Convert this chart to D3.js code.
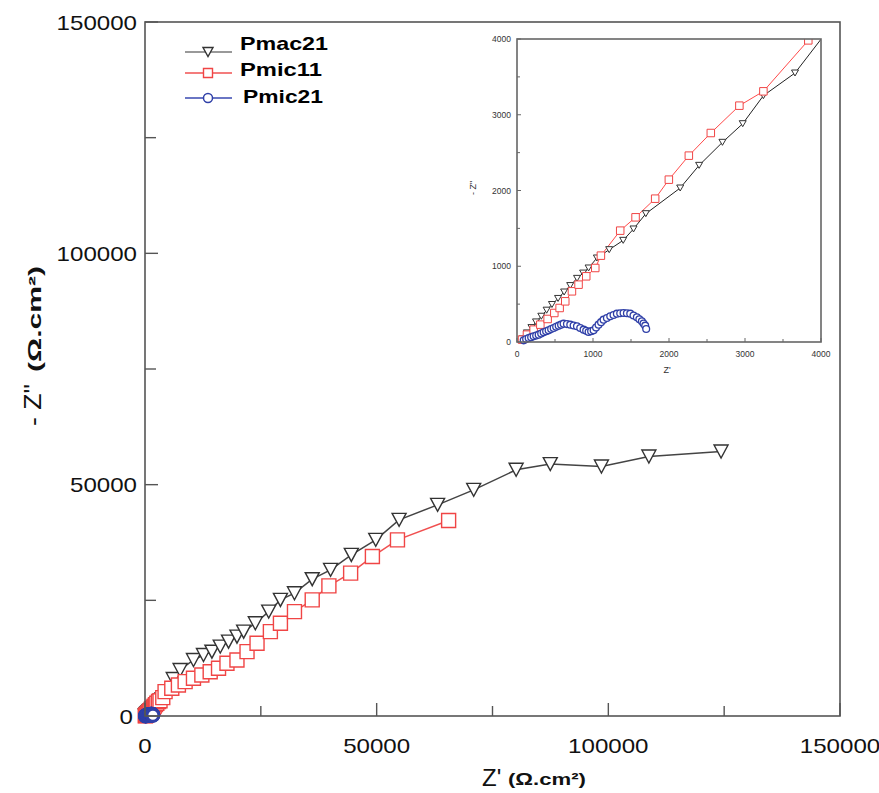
<!DOCTYPE html>
<html><head><meta charset="utf-8">
<script src="https://cdn.jsdelivr.net/npm/d3@7"></script>
<style>body{margin:0;background:#fff}</style>
</head><body>
<svg id="c" width="879" height="793"></svg>
<script>
// ---------- data ----------
const seriesNames = ["Pmac21", "Pmic11", "Pmic21"];
const pmac21 = [[70,40],[130,120],[190,190],[250,265],[320,340],[390,420],[460,495],[540,575],[620,660],[700,745],[790,840],[870,910],[942,977],[1051,1109],[1213,1219],[1397,1342],[1533,1492],[1695,1694],[2147,2033],[2396,2332],[2703,2636],[2970,2882],[3242,3252],[3658,3551],[4600,4780],[6100,8000],[7580,9950],[10460,12110],[12620,13190],[14440,13900],[16240,15000],[18030,16070],[19850,17150],[21290,18230],[23810,20050],[26700,22560],[29230,25090],[32260,26540],[36090,29570],[40050,31580],[44530,34820],[49800,38070],[54840,42390],[63150,45640],[70940,48880],[80100,53210],[87470,54450],[98510,53920],[108750,56090],[124330,57170]];
const pmic11 = [[66,31],[131,97],[219,163],[307,229],[403,304],[491,383],[561,449],[635,537],[723,669],[810,757],[911,867],[1030,977],[1104,1140],[1358,1470],[1560,1646],[1818,1892],[1998,2143],[2261,2460],[2550,2759],[2926,3120],[3242,3309],[3833,3982],[4330,5260],[5780,5990],[7210,6700],[8660,7430],[10460,8150],[12270,8870],[14070,9580],[15870,10310],[17690,11390],[19850,12110],[22020,13910],[24180,15720],[27060,18230],[29230,20050],[32260,22560],[36090,25090],[39690,28120],[44380,30870],[49080,34460],[54490,38070],[65530,42240]];
const pmic21 = [[88,22],[120,38],[153,53],[186,64],[219,75],[252,86],[285,97],[318,112],[350,128],[383,141],[416,154],[449,170],[482,185],[515,200],[548,216],[580,229],[613,242],[657,236],[701,229],[745,218],[789,207],[832,185],[876,163],[910,147],[942,132],[975,143],[1008,154],[1040,190],[1073,229],[1106,262],[1139,295],[1183,317],[1227,339],[1270,357],[1314,374],[1358,379],[1402,383],[1446,379],[1490,374],[1533,350],[1577,326],[1610,300],[1643,273],[1665,245],[1687,216],[1700,172]];
const mainTicks = [0, 50000, 100000, 150000];
const mainTickLabels = ["0", "50000", "100000", "150000"];
const mainMinorTicks = [25000, 75000, 125000];
const insetTicks = [0, 1000, 2000, 3000, 4000];
const insetTickLabels = ["0", "1000", "2000", "3000", "4000"];
const insetMinorTicks = [500, 1500, 2500, 3500];

// ---------- setup ----------
const svg = d3.select("#c");
const FONT = "Liberation Sans, Arial, sans-serif";
const colors = {Pmac21: "#333333", Pmic11: "#f04545", Pmic21: "#3040a8"};
const lineColors = {Pmac21: "#444444", Pmic11: "#f05050", Pmic21: "#3848b0"};
const data = {Pmac21: pmac21, Pmic11: pmic11, Pmic21: pmic21};

function triDown(w, h) { return `M${-w/2},${-h/2}L${w/2},${-h/2}L0,${h/2}Z`; }
function square(s) { return `M${-s/2},${-s/2}h${s}v${s}h${-s}Z`; }

function drawMarkers(g, name, pts, x, y, sz) {
  const sel = g.selectAll(null).data(pts).enter();
  if (name === "Pmac21") {
    sel.append("path").attr("d", triDown(sz.tw, sz.th))
      .attr("transform", d => `translate(${x(d[0])},${y(d[1])})`)
      .attr("fill", "#fff").attr("stroke", colors[name]).attr("stroke-width", sz.sw);
  } else if (name === "Pmic11") {
    sel.append("path").attr("d", square(sz.sq))
      .attr("transform", d => `translate(${x(d[0])},${y(d[1])})`)
      .attr("fill", "#fff").attr("stroke", colors[name]).attr("stroke-width", sz.sw);
  } else {
    sel.append("circle").attr("cx", d => x(d[0])).attr("cy", d => y(d[1])).attr("r", sz.r)
      .attr("fill", "#fff").attr("stroke", colors[name]).attr("stroke-width", sz.csw);
  }
}

// ---------- main chart ----------
const X0 = 145, X1 = 840, Y0 = 716, Y1 = 22;
const x = d3.scaleLinear().domain([0, 150000]).range([X0, X1]);
const y = d3.scaleLinear().domain([0, 150000]).range([Y0, Y1]);

svg.append("clipPath").attr("id", "mclip").append("rect")
  .attr("x", X0 - 10).attr("y", Y1).attr("width", X1 - X0 + 10).attr("height", Y0 - Y1 + 10);

const mg = svg.append("g").attr("clip-path", "url(#mclip)");
const line = d3.line().x(d => x(d[0])).y(d => y(d[1]));
const mainSz = {tw: 14, th: 13, sq: 14, sw: 1.4, r: 6, csw: 3};
seriesNames.forEach(n => {
  if (n !== "Pmic21")
    mg.append("path").datum(data[n]).attr("d", line).attr("fill", "none")
      .attr("stroke", lineColors[n]).attr("stroke-width", 1.5);
});
seriesNames.forEach(n => drawMarkers(mg, n, data[n], x, y, mainSz));

// frame
svg.append("rect").attr("x", X0).attr("y", Y1).attr("width", X1 - X0).attr("height", Y0 - Y1)
  .attr("fill", "none").attr("stroke", "#555").attr("stroke-width", 1.6);

// ticks (inward)
const ax = svg.append("g");
mainTicks.forEach(t => {
  ax.append("line").attr("x1", x(t)).attr("x2", x(t)).attr("y1", Y0).attr("y2", Y0 - 13).attr("stroke", "#555").attr("stroke-width", 1.4);
  ax.append("line").attr("x1", X0).attr("x2", X0 + 13).attr("y1", y(t)).attr("y2", y(t)).attr("stroke", "#555").attr("stroke-width", 1.4);
});
mainMinorTicks.forEach(t => {
  ax.append("line").attr("x1", x(t)).attr("x2", x(t)).attr("y1", Y0).attr("y2", Y0 - 10).attr("stroke", "#555").attr("stroke-width", 1.4);
  ax.append("line").attr("x1", X0).attr("x2", X0 + 11).attr("y1", y(t)).attr("y2", y(t)).attr("stroke", "#555").attr("stroke-width", 1.4);
});
mainTicks.forEach((t, i) => {
  const lab = mainTickLabels[i];
  ax.append("text").attr("x", x(t)).attr("y", 753).attr("text-anchor", "middle")
    .attr("font-family", FONT).attr("font-size", 21)
    .attr("textLength", lab.length * 13.4).attr("lengthAdjust", "spacingAndGlyphs")
    .attr("fill", "#111").text(lab);
  ax.append("text").attr("x", t === 0 ? 133 : 137).attr("y", y(t) + 7.5).attr("text-anchor", "end")
    .attr("font-family", FONT).attr("font-size", 21)
    .attr("textLength", lab.length * 13.4).attr("lengthAdjust", "spacingAndGlyphs")
    .attr("fill", "#111").text(lab);
});

// axis titles
svg.append("text").attr("x", 482).attr("y", 786).attr("fill", "#111")
  .attr("font-family", FONT).attr("font-size", 24).text("Z'");
svg.append("text").attr("x", 508).attr("y", 785).attr("fill", "#111")
  .attr("font-family", FONT).attr("font-size", 17).attr("font-weight", "bold")
  .attr("textLength", 78).attr("lengthAdjust", "spacingAndGlyphs").text("(Ω.cm²)");

const ytg = svg.append("g").attr("transform", "translate(41,0) rotate(-90)");
ytg.append("text").attr("x", -426).attr("y", 0).attr("fill", "#111")
  .attr("font-family", FONT).attr("font-size", 24)
  .attr("textLength", 42).attr("lengthAdjust", "spacingAndGlyphs").text("- Z\"");
ytg.append("text").attr("x", -372).attr("y", 0).attr("fill", "#111")
  .attr("font-family", FONT).attr("font-size", 18).attr("font-weight", "bold")
  .attr("textLength", 106).attr("lengthAdjust", "spacingAndGlyphs").text("(Ω.cm²)");

// legend
const legRows = [{n: "Pmac21", ly: 52, ty: 50, tx: 240, tl: 88}, {n: "Pmic11", ly: 73, ty: 76, tx: 240, tl: 82}, {n: "Pmic21", ly: 98, ty: 103, tx: 243, tl: 80}];
const lg = svg.append("g");
legRows.forEach(r => {
  lg.append("line").attr("x1", 185).attr("x2", 232).attr("y1", r.ly).attr("y2", r.ly)
    .attr("stroke", r.n === "Pmac21" ? "#777" : lineColors[r.n]).attr("stroke-width", 1.6);
  drawMarkers(lg, r.n, [[0, 0]], () => 208, () => r.ly, {tw: 10, th: 9, sq: 9, sw: 1.4, r: 4.5, csw: 1.5});
  lg.append("text").attr("x", r.tx).attr("y", r.ty)
    .attr("font-family", FONT).attr("font-weight", "bold").attr("font-size", 18.5)
    .attr("textLength", r.tl).attr("lengthAdjust", "spacingAndGlyphs").attr("fill", "#000").text(r.n);
});

// ---------- inset ----------
const IX0 = 517, IX1 = 821, IY0 = 342, IY1 = 39;
const ix = d3.scaleLinear().domain([0, 4000]).range([IX0, IX1]);
const iy = d3.scaleLinear().domain([0, 4000]).range([IY0, IY1]);
svg.append("rect").attr("x", IX0 - 8).attr("y", IY1 - 4).attr("width", IX1 - IX0 + 14).attr("height", IY0 - IY1 + 10).attr("fill", "#fff");
svg.append("clipPath").attr("id", "iclip").append("rect")
  .attr("x", IX0 - 5).attr("y", IY1).attr("width", IX1 - IX0 + 5).attr("height", IY0 - IY1 + 5);
const ig = svg.append("g").attr("clip-path", "url(#iclip)");
const iline = d3.line().x(d => ix(d[0])).y(d => iy(d[1]));
seriesNames.forEach(n => {
  if (n !== "Pmic21")
    ig.append("path").datum(data[n]).attr("d", iline).attr("fill", "none")
      .attr("stroke", n === "Pmac21" ? "#222" : "#ff4a4a").attr("stroke-width", 1);
});
const inSz = {tw: 7, th: 6, sq: 7.5, sw: 1, r: 3.4, csw: 1.3};
seriesNames.forEach(n => drawMarkers(ig, n, data[n].filter(d => d[0] <= 4000 && d[1] <= 4000), ix, iy, inSz));

svg.append("rect").attr("x", IX0).attr("y", IY1).attr("width", IX1 - IX0).attr("height", IY0 - IY1)
  .attr("fill", "none").attr("stroke", "#666").attr("stroke-width", 1.6);
const iax = svg.append("g");
insetTicks.forEach((t, i) => {
  iax.append("line").attr("x1", ix(t)).attr("x2", ix(t)).attr("y1", IY0).attr("y2", IY0 - 4).attr("stroke", "#666");
  iax.append("line").attr("x1", IX0).attr("x2", IX0 + 4).attr("y1", iy(t)).attr("y2", iy(t)).attr("stroke", "#666");
  iax.append("text").attr("x", ix(t)).attr("y", 357).attr("text-anchor", "middle")
    .attr("font-family", FONT).attr("font-size", 8.5).attr("fill", "#333").text(insetTickLabels[i]);
  iax.append("text").attr("x", 511).attr("y", iy(t) + 3).attr("text-anchor", "end")
    .attr("font-family", FONT).attr("font-size", 8.5).attr("fill", "#333").text(insetTickLabels[i]);
});
insetMinorTicks.forEach(t => {
  iax.append("line").attr("x1", ix(t)).attr("x2", ix(t)).attr("y1", IY0).attr("y2", IY0 - 3).attr("stroke", "#666");
  iax.append("line").attr("x1", IX0).attr("x2", IX0 + 3).attr("y1", iy(t)).attr("y2", iy(t)).attr("stroke", "#666");
});
iax.append("text").attr("x", 667).attr("y", 373).attr("text-anchor", "middle")
  .attr("font-family", FONT).attr("font-size", 9).attr("fill", "#333").text("Z'");
iax.append("text").attr("transform", "translate(476,188) rotate(-90)").attr("text-anchor", "middle")
  .attr("font-family", FONT).attr("font-size", 9).attr("fill", "#333").text("- Z\"");
</script>
</body></html>
